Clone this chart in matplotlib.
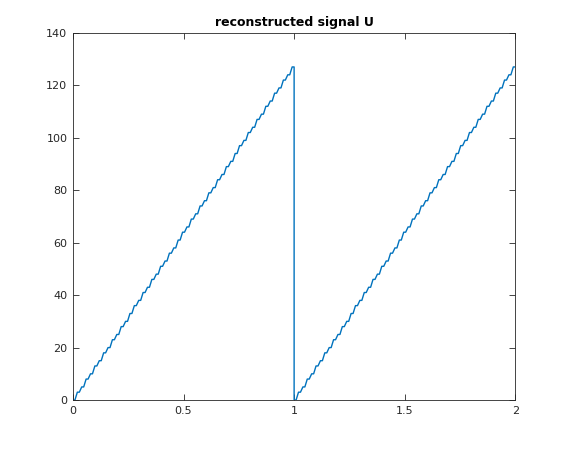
import numpy as np
import matplotlib
matplotlib.use('Agg')
import matplotlib.pyplot as plt

# quantized levels of one sawtooth period
levels = [0, 3, 5, 8, 10, 13, 15, 18, 20, 23, 25, 28, 30, 33, 36, 38, 41,
          43, 46, 48, 51, 53, 56, 58, 61, 64, 66, 69, 71, 74, 76, 79, 81,
          84, 86, 89, 91, 94, 97, 99, 102, 104, 107, 109, 112, 114, 117,
          119, 122, 124, 127]
periods = [0, 1]
period_len = 1.0
hold = 0.45  # fraction of each step that the level is held flat

t = []
u = []
n = len(levels)
dt = period_len / (n - 1 + hold)
for p in periods:
    for k, v in enumerate(levels):
        t0 = p * period_len + k * dt
        t.append(t0)
        u.append(v)
        t.append(t0 + hold * dt)
        u.append(v)

fig = plt.figure(figsize=(5.7, 4.5), dpi=100)
ax = fig.add_axes([0.128, 0.111, 0.776, 0.816])
ax.plot(t, u, color='#0072BD', linewidth=1.0)

ax.set_xlim(0, 2)
ax.set_ylim(0, 140)
ax.set_xticks([0, 0.5, 1, 1.5, 2])
ax.set_xticklabels(['0', '0.5', '1', '1.5', '2'])
ax.set_yticks(range(0, 141, 20))
ax.tick_params(direction='in', length=4, width=0.6, labelsize=8, colors='#262626',
               top=True, right=True, labeltop=False, labelright=False, pad=4)
for s in ax.spines.values():
    s.set_linewidth(0.6)
    s.set_color('#262626')
ax.set_title('reconstructed signal U', fontsize=9, fontweight='bold', pad=5)

fig.savefig('out.png', dpi=100)
